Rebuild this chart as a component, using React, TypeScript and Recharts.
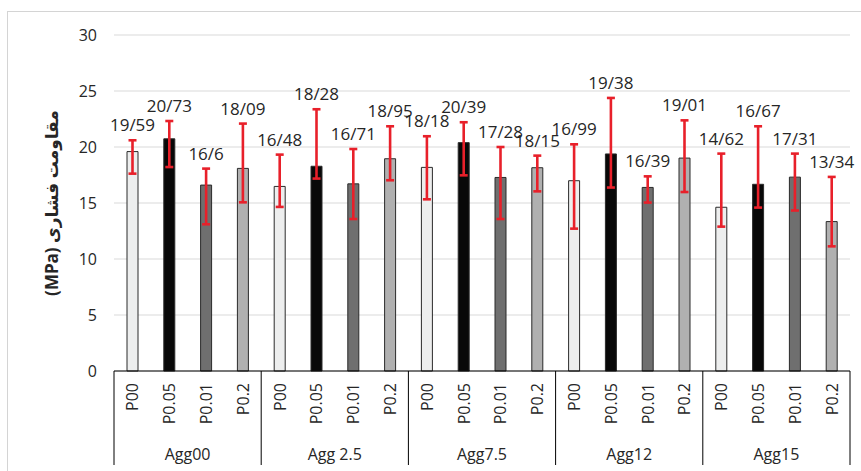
import React from 'react';
import { BarChart, Bar, XAxis, YAxis, CartesianGrid, ErrorBar, LabelList, Cell } from 'recharts';

// Aggregate groups and polymer levels on the two-level category axis
const groups = ['Agg00', 'Agg 2.5', 'Agg7.5', 'Agg12', 'Agg15'];
const levels = ['P00', 'P0.05', 'P0.01', 'P0.2'];

// Mean compressive strength (MPa) per level, one entry per aggregate group
const p00 = [19.59, 16.48, 18.18, 16.99, 14.62];
const p005 = [20.73, 18.28, 20.39, 19.38, 16.67];
const p001 = [16.6, 16.71, 17.28, 16.39, 17.31];
const p02 = [18.09, 18.95, 18.15, 19.01, 13.34];

// Upper / lower error extents (MPa) per level
const p00Up = [1.01, 2.84, 2.78, 3.25, 4.79];
const p00Down = [1.97, 1.83, 2.85, 4.28, 1.73];
const p005Up = [1.59, 5.09, 1.82, 5.0, 5.18];
const p005Down = [2.52, 1.1, 2.92, 3.0, 2.08];
const p001Up = [1.47, 3.11, 2.72, 0.99, 2.1];
const p001Down = [3.5, 3.14, 3.71, 1.35, 2.98];
const p02Up = [4.0, 2.9, 1.08, 3.37, 3.99];
const p02Down = [3.03, 1.92, 2.11, 3.03, 2.21];

const yTicks = [0, 5, 10, 15, 20, 25, 30];
const yTitle = 'مقاومت فشاری (MPa)';

const levelValues = [p00, p005, p001, p02];
const levelUp = [p00Up, p005Up, p001Up, p02Up];
const levelDown = [p00Down, p005Down, p001Down, p02Down];
const levelFills = ['#EDEEEE', '#080808', '#6F6F6F', '#B0B0B0'];

const FONT = '"Open Sans", "DejaVu Sans", sans-serif';
const TEXT = '#262626';

const rows = groups.flatMap((g, gi) =>
  levels.map((lv, li) => ({
    key: `${g}|${lv}`,
    group: g,
    level: lv,
    li,
    value: levelValues[li][gi],
    up: levelUp[li][gi],
    err: [levelDown[li][gi], levelUp[li][gi]],
  }))
);

const formatValue = (v: number) => String(v).replace('.', '/');

const CategoryTick = (props: any) => {
  const { x, y, payload, width } = props;
  const idx = rows.findIndex((r) => r.key === payload.value);
  const row = rows[idx];
  if (!row) return null;
  const band = (typeof width === 'number' ? width : 736) / rows.length;
  const left = x - band / 2;
  return (
    <g>
      <text
        transform={`translate(${x + 6},${y + 12}) rotate(-90)`}
        textAnchor="end"
        fontSize={16}
        fontFamily={FONT}
        fill={TEXT}
      >
        {row.level}
      </text>
      {row.li === 0 && (
        <>
          <line x1={left} x2={left} y1={y} y2={y + 94} stroke="#000" strokeWidth={1} />
          <text
            x={left + band * 2}
            y={y + 89}
            textAnchor="middle"
            fontSize={16}
            fontFamily={FONT}
            fill={TEXT}
          >
            {row.group}
          </text>
        </>
      )}
      {idx === rows.length - 1 && (
        <line x1={x + band / 2} x2={x + band / 2} y1={y} y2={y + 94} stroke="#000" strokeWidth={1} />
      )}
    </g>
  );
};

const ValueLabel = (props: any) => {
  const { x, y, width, height, value, index } = props;
  const row = rows[index];
  if (!row) return null;
  const perUnit = Number(height) / row.value;
  const top = Number(y) - row.up * perUnit;
  return (
    <text
      x={Number(x) + Number(width) / 2}
      y={top - 9}
      textAnchor="middle"
      fontSize={17}
      fontFamily={FONT}
      fill={TEXT}
    >
      {formatValue(value)}
    </text>
  );
};

const YTitle = (props: any) => {
  const vb = props.viewBox || { x: 0, y: 35, width: 114, height: 336 };
  const cx = vb.x + 58;
  const cy = vb.y + vb.height / 2;
  return (
    <text
      transform={`translate(${cx},${cy}) rotate(-90)`}
      textAnchor="middle"
      direction="rtl"
      fontSize={17}
      fontWeight="bold"
      fontFamily={FONT}
      fill={TEXT}
    >
      {yTitle}
    </text>
  );
};

export default function App() {
  return (
    <div
      style={{
        position: 'absolute',
        left: 0,
        top: 0,
        width: 861,
        height: 471,
        overflow: 'hidden',
        background: '#fff',
      }}
    >
      <div
        style={{
          position: 'absolute',
          left: 7,
          top: 11,
          width: 900,
          height: 500,
          border: '1px solid #d4d4d4',
          boxSizing: 'border-box',
        }}
      />
      <div style={{ position: 'absolute', left: 0, top: 0 }}>
        <BarChart
          width={861}
          height={471}
          data={rows}
          margin={{ top: 35, right: 11, bottom: 0, left: 0 }}
        >
          <CartesianGrid vertical={false} stroke="#d9d9d9" strokeWidth={1.2} />
          <XAxis
            dataKey="key"
            interval={0}
            height={100}
            tickLine={false}
            tickSize={0}
            tickMargin={0}
            axisLine={{ stroke: '#000', strokeWidth: 1 }}
            tick={<CategoryTick />}
          />
          <YAxis
            width={114}
            domain={[0, 30]}
            ticks={yTicks}
            interval={0}
            axisLine={false}
            tickLine={false}
            tickSize={0}
            tickMargin={17}
            tick={{ fontSize: 16, fill: TEXT, fontFamily: FONT }}
            label={{ content: <YTitle /> }}
          />
          <Bar dataKey="value" barSize={11} stroke="#2a2a2a" strokeWidth={1} isAnimationActive={false}>
            {rows.map((r) => (
              <Cell key={r.key} fill={levelFills[r.li]} />
            ))}
            <ErrorBar dataKey="err" direction="y" width={4} strokeWidth={2.6} stroke="#E8202A" />
            <LabelList dataKey="value" content={<ValueLabel />} />
          </Bar>
        </BarChart>
      </div>
    </div>
  );
}
